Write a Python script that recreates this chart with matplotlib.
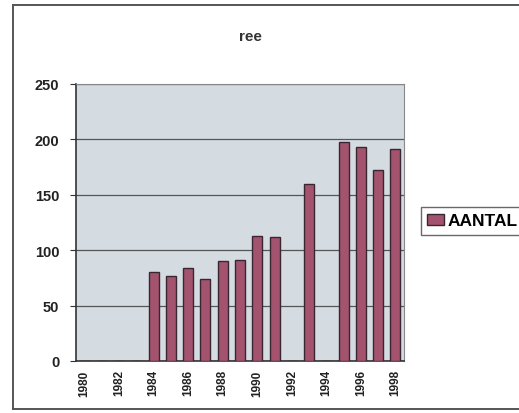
import numpy as np
import matplotlib
matplotlib.use('Agg')
import matplotlib.pyplot as plt
from matplotlib.lines import Line2D

plt.rcParams['font.family'] = ['Liberation Sans', 'DejaVu Sans']

years = list(range(1980, 1999))
aantal = [0, 0, 0, 0, 80, 77, 84, 74, 90, 91, 113, 112, 0, 160, 0, 198, 193, 172, 191]
tick_years = years[::2]
yticks = [0, 50, 100, 150, 200, 250]

fig = plt.figure(figsize=(5.19, 4.14), dpi=100)
fig.patch.set_facecolor('white')

# chart border: left, top and bottom (right side runs off the page)
W, H = 519, 414
bx0, bx1, by0, by1 = 13 / W, 1.1, 1 - 410 / H, 1 - 6 / H
for xs, ys in [([bx0, bx0], [by0, by1]), ([bx0, bx1], [by1, by1]),
               ([bx0, bx1], [by0, by0])]:
    fig.add_artist(Line2D(xs, ys, transform=fig.transFigure,
                          color='#555555', linewidth=1.4))

ax = fig.add_axes([76 / W, 1 - 362 / H, 328 / W, 277 / H])
ax.set_facecolor('#d4dbe1')

x = np.arange(len(years))
ax.bar(x, aantal, width=0.58, color='#a3536d', edgecolor='#3a2630',
       linewidth=1.0, label='AANTAL', zorder=3)

ax.set_xlim(-0.5, len(years) - 0.5)
ax.set_ylim(0, 250)
ax.set_yticks(yticks)
ax.set_yticklabels([str(v) for v in yticks], fontsize=10.5, fontweight='bold',
                   color='#222222')
ax.set_xticks(x[::2])
ax.set_xticklabels([str(y) for y in tick_years], rotation=90, fontsize=8.5,
                   fontweight='bold', color='#222222')
ax.yaxis.grid(True, color='#555555', linewidth=0.9, zorder=1)
ax.tick_params(axis='y', direction='out', length=4, color='#333333', pad=8)
ax.tick_params(axis='x', length=0, pad=6)
for s in ['top', 'right']:
    ax.spines[s].set_color('#888888')
for s in ['left', 'bottom']:
    ax.spines[s].set_color('#333333')
    ax.spines[s].set_linewidth(1.2)

fig.text(250 / W, 1 - 37 / H, 'ree', ha='center', va='center', fontsize=11,
         fontweight='bold', color='#333333')

leg = ax.legend(loc='center left', bbox_to_anchor=(421 / W, 1 - 222 / H),
                bbox_transform=fig.transFigure, frameon=True, fancybox=False,
                prop={'size': 12.5, 'weight': 'bold'}, handlelength=1.0,
                handleheight=0.6, handletextpad=0.2, borderpad=0.35,
                borderaxespad=0)
leg.get_frame().set_edgecolor('#444444')
leg.get_frame().set_linewidth(1.0)

fig.savefig('out.png', dpi=100)
